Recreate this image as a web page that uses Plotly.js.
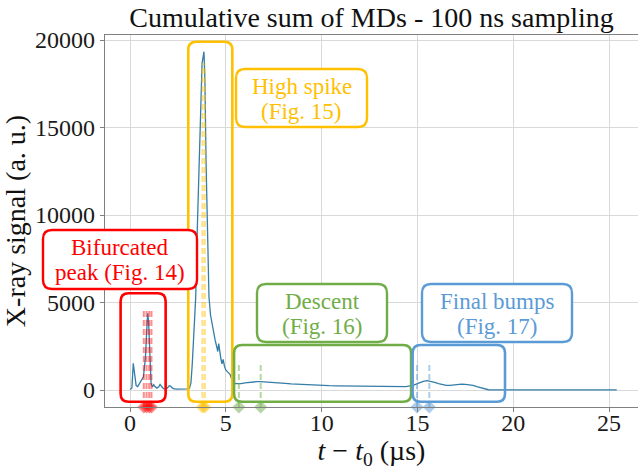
<!DOCTYPE html>
<html><head><meta charset="utf-8">
<script src="https://cdn.plot.ly/plotly-3.0.1.min.js"></script>
<style>html,body{margin:0;padding:0;background:#fff;} #chart{width:638px;height:470px;}</style>
</head><body><div id="chart"></div>
<script>
// ---- data ----
const timeUs = [0.0,0.1,0.17,0.25,0.32,0.4,0.5,0.6,0.7,0.8,0.87,0.92,0.97,1.02,1.1,1.17,1.24,1.3,1.4,1.5,1.57,1.65,1.75,1.85,1.95,2.05,2.12,2.2,2.3,2.5,2.7,2.9,3.0,3.1,3.18,3.25,3.35,3.43,3.51,3.6,3.69,3.76,3.86,3.91,3.97,4.04,4.12,4.2,4.28,4.36,4.44,4.52,4.58,4.63,4.68,4.74,4.8,4.86,4.93,5.0,5.08,5.15,5.22,5.3,5.4,5.5,5.6,5.8,6.0,6.2,6.4,6.6,6.8,7.0,7.2,7.5,7.8,8.1,8.4,8.7,9.0,9.3,9.6,10.0,10.4,10.8,11.2,11.6,12.0,12.4,12.8,13.2,13.6,14.0,14.4,14.8,15.1,15.3,15.5,15.7,15.9,16.1,16.3,16.5,16.7,16.9,17.1,17.3,17.5,17.7,17.9,18.1,18.3,18.5,18.7,19.0,20.0,21.0,22.0,23.0,24.0,25.0,25.4];
const signal = [30,120,1520,700,250,200,380,560,760,1800,3600,4380,3900,2200,350,180,300,200,110,180,320,200,80,60,120,250,230,120,60,50,40,50,60,90,400,1500,3500,5330,9140,12950,16760,18670,19330,17620,12950,8190,5330,4300,3750,3300,2860,2500,2200,2650,2200,1800,1500,1750,1350,1150,1050,980,900,650,430,370,360,370,410,440,460,475,480,470,455,430,400,380,350,330,305,290,275,255,245,235,230,225,220,215,205,200,205,195,190,280,410,490,530,490,430,360,310,260,270,300,330,340,320,300,260,190,120,50,15,10,10,10,10,10,10,10,10];

const bifurcatedTimes = [0.72, 0.86, 1.0, 1.12];
const bifurcatedTop = 4670;
const spikeTimes = [3.78, 3.90];
const spikeTop = 18670;
const descentTimes = [5.68, 6.82];
const descentTop = 1620;
const bumpTimes = [14.98, 15.62];
const bumpTop = 1620;

const xTicks = [0, 5, 10, 15, 20, 25];
const yTicks = [0, 5000, 10000, 15000, 20000];

const titleText = 'Cumulative sum of MDs - 100 ns sampling';
const xTitle = '<i>t</i> − <i>t</i><sub>0</sub> (µs)';
const yTitle = 'X-ray signal (a. u.)';
const labels = {
  red: ['Bifurcated', 'peak (Fig. 14)'],
  gold: ['High spike', '(Fig. 15)'],
  green: ['Descent', '(Fig. 16)'],
  blue: ['Final bumps', '(Fig. 17)']
};

// ---- layout geometry ----
const W = 638, H = 470;
const M = {l: 105, r: 0, t: 35, b: 63};
const xRange = [-1.305, 26.51];
const yRange = [-971, 20286];
const plotW = W - M.l - M.r, plotH = H - M.t - M.b;
const pxPerX = plotW / (xRange[1] - xRange[0]);
const pxPerY = plotH / (yRange[1] - yRange[0]);

const FONT = 'Liberation Serif';
const COL = {
  red: '#ff0000', gold: '#ffc000', green: '#70ad47', blue: '#5b9bd5'
};
const COLA = {
  red: 'rgba(255,0,0,0.45)', gold: 'rgba(255,192,0,0.5)',
  green: 'rgba(112,173,71,0.5)', blue: 'rgba(91,155,213,0.5)'
};

function roundRectData(x0, x1, y0, y1, r) {
  const rx = r / pxPerX, ry = r / pxPerY;
  return `M${x0+rx},${y0} L${x1-rx},${y0} Q${x1},${y0} ${x1},${y0+ry} L${x1},${y1-ry} Q${x1},${y1} ${x1-rx},${y1} L${x0+rx},${y1} Q${x0},${y1} ${x0},${y1-ry} L${x0},${y0+ry} Q${x0},${y0} ${x0+rx},${y0} Z`;
}
const px2px = (px) => (px - M.l) / plotW;
const py2py = (py) => (H - M.b - py) / plotH;
function roundRectPaper(left, right, top, bottom, r) {
  const x0 = px2px(left), x1 = px2px(right), y0 = py2py(bottom), y1 = py2py(top);
  const rx = r / plotW, ry = r / plotH;
  return `M${x0+rx},${y0} L${x1-rx},${y0} Q${x1},${y0} ${x1},${y0+ry} L${x1},${y1-ry} Q${x1},${y1} ${x1-rx},${y1} L${x0+rx},${y1} Q${x0},${y1} ${x0},${y1-ry} L${x0},${y0+ry} Q${x0},${y0} ${x0+rx},${y0} Z`;
}

// ---- traces ----
const traces = [];
traces.push({
  x: timeUs, y: signal, type: 'scatter', mode: 'lines',
  line: {color: '#347da8', width: 1.3}, hoverinfo: 'skip', showlegend: false
});
const groups = [
  {times: bifurcatedTimes, top: bifurcatedTop, c: 'red'},
  {times: spikeTimes, top: spikeTop, c: 'gold'},
  {times: descentTimes, top: descentTop, c: 'green'},
  {times: bumpTimes, top: bumpTop, c: 'blue'}
];
groups.forEach(g => {
  g.times.forEach(t => {
    traces.push({
      x: [t, t], y: [yRange[0], g.top], type: 'scatter', mode: 'lines',
      line: {color: COLA[g.c], width: 2, dash: '6px,3px'},
      hoverinfo: 'skip', showlegend: false
    });
  });
});
groups.forEach(g => {
  traces.push({
    x: g.times, y: g.times.map(() => yRange[0]), type: 'scatter', mode: 'markers',
    marker: {symbol: 'diamond', size: 10, color: COLA[g.c], line: {width: 0}},
    cliponaxis: false, hoverinfo: 'skip', showlegend: false
  });
});

// ---- shapes ----
const shapes = [];
const regionBoxes = [
  {x0: -0.49, x1: 1.86, y0: -669, y1: 5526, c: 'red'},
  {x0: 3.04, x1: 5.34, y0: -669, y1: 19903, c: 'gold'},
  {x0: 5.43, x1: 14.67, y0: -669, y1: 2571, c: 'green'},
  {x0: 14.75, x1: 19.57, y0: -669, y1: 2571, c: 'blue'}
];
regionBoxes.forEach(b => {
  shapes.push({type: 'path', xref: 'x', yref: 'y', layer: 'above',
    path: roundRectData(b.x0, b.x1, b.y0, b.y1, 8),
    line: {color: COL[b.c], width: 2.6}, fillcolor: 'rgba(0,0,0,0)'});
});
const labelBoxes = [
  {l: 43, r: 197, t: 230, b: 289, c: 'red'},
  {l: 236, r: 367, t: 69, b: 127, c: 'gold'},
  {l: 257, r: 387, t: 284, b: 342, c: 'green'},
  {l: 422, r: 572, t: 284, b: 342, c: 'blue'}
];
labelBoxes.forEach(b => {
  shapes.push({type: 'path', xref: 'paper', yref: 'paper', layer: 'above',
    path: roundRectPaper(b.l, b.r, b.t, b.b, 9),
    line: {color: COL[b.c], width: 2.4}, fillcolor: '#ffffff'});
});

// ---- annotations (label text) ----
const annotations = [];
labelBoxes.forEach(b => {
  const cx = (b.l + b.r) / 2, cy = (b.t + b.b) / 2;
  const lines = labels[b.c];
  [cy - 12, cy + 13].forEach((yy, i) => {
    annotations.push({xref: 'paper', yref: 'paper', x: px2px(cx), y: py2py(yy),
      xanchor: 'center', yanchor: 'middle', showarrow: false, text: lines[i],
      font: {family: FONT, size: 23, color: COL[b.c]}});
  });
});

const axisCommon = {
  showgrid: true, gridcolor: '#d9d9d9', gridwidth: 1, zeroline: false,
  showline: true, linecolor: '#808080', linewidth: 1.2,
  ticks: 'outside', ticklen: 4, tickcolor: '#808080', tickwidth: 1,
  tickfont: {family: FONT, size: 24, color: '#1a1a1a'}
};

const layout = {
  width: W, height: H, margin: M, paper_bgcolor: '#ffffff', plot_bgcolor: '#ffffff',
  showlegend: false,
  font: {family: FONT},
  title: {text: titleText, x: 0.5, xref: 'paper', xanchor: 'center', y: 1 - 17/H, yref: 'container', yanchor: 'middle',
    font: {family: FONT, size: 28, color: '#111'}},
  xaxis: Object.assign({}, axisCommon, {range: xRange, tickvals: xTicks, ticktext: xTicks.map(String), mirror: true,
    ticklabelstandoff: -10,
    title: {text: xTitle, font: {family: FONT, size: 28, color: '#111'}, standoff: 14}}),
  yaxis: Object.assign({}, axisCommon, {range: yRange, tickvals: yTicks, ticktext: yTicks.map(String),
    title: {text: yTitle, font: {family: FONT, size: 28, color: '#111'}, standoff: 8}}),
  shapes: shapes, annotations: annotations
};

Plotly.newPlot('chart', traces, layout, {displayModeBar: false, staticPlot: true});
</script>
</body></html>
